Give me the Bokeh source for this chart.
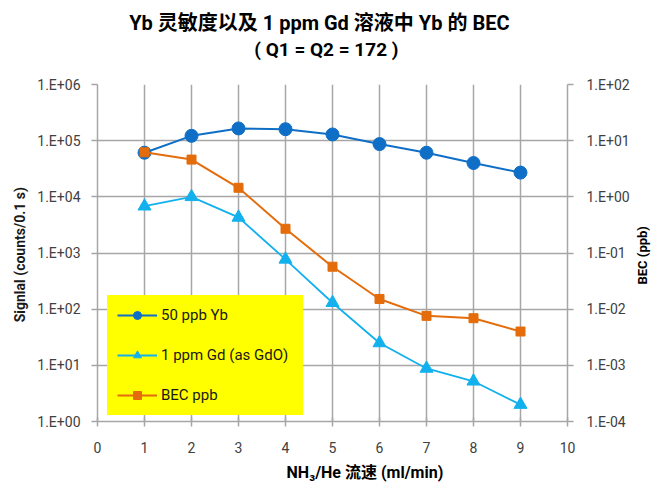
import math
from bokeh.plotting import figure
from bokeh.models import (Range1d, LogScale, LogAxis, LinearAxis, FixedTicker,
                          CustomJSTickFormatter, Legend, LegendItem)
from bokeh.embed import file_html
from bokeh.resources import INLINE

# ---- data ----
flow = [1, 2, 3, 4, 5, 6, 7, 8, 9]
yb_50ppb = [6.1e4, 1.22e5, 1.65e5, 1.6e5, 1.29e5, 8.7e4, 6.1e4, 4.0e4, 2.7e4]
gd_1ppm = [6.8e3, 1.0e4, 4.3e3, 7.7e2, 1.3e2, 25, 8.8, 5.2, 2.0]
bec_ppb = [6.2, 4.6, 1.45, 0.27, 0.057, 0.0152, 0.0076, 0.0069, 0.0040]

x_ticks = [0, 1, 2, 3, 4, 5, 6, 7, 8, 9, 10]
left_ticks = [1, 10, 100, 1e3, 1e4, 1e5, 1e6]
right_ticks = [1e-4, 1e-3, 1e-2, 1e-1, 1, 10, 100]

title_main = "Yb 灵敏度以及 1 ppm Gd 溶液中 Yb 的 BEC"
title_sub = "( Q1 = Q2 = 172 )"
x_label = "NH\u2083/He 流速 (ml/min)"
y_label = "Signlal  (counts/0.1 s)"
y2_label = "BEC  (ppb)"
series_names = ["50 ppb Yb", "1 ppm Gd (as GdO)", "BEC ppb"]

# layout anchors (positions of the free-standing texts, in axis units)
MAIN_TITLE_AT = 4.72
SUB_TITLE_AT = 4.87
X_LABEL_AT = 5.69
Y2_LABEL_AT = 0.0275

FONT = "Roboto, 'Noto Sans CJK SC', sans-serif"
GRID = "#a6a6a6"
TICK_TXT = "#404040"
C_YB = "#0F6FC6"
C_GD = "#12B1EE"
C_BEC = "#E46C0A"

FRAME_L, FRAME_R, FRAME_T, FRAME_B = 97, 568, 84, 421
W, H = 660, 484

p = figure(width=W, height=H, x_range=Range1d(0, 10), y_range=Range1d(1, 1e6),
           y_axis_type="log", output_backend="svg", toolbar_location=None, title=None,
           min_border_left=FRAME_L, min_border_right=W - FRAME_R,
           min_border_top=FRAME_T, min_border_bottom=H - FRAME_B)
p.outline_line_color = None
p.background_fill_color = "white"

fmt = CustomJSTickFormatter(code="""
const e = Math.round(Math.log10(tick));
const a = Math.abs(e);
return "1.E" + (e < 0 ? "-" : "+") + (a < 10 ? "0" + a : "" + a);
""")


def text_formatter(s):
    return CustomJSTickFormatter(args=dict(s=s), code="return s;")


# grids
p.xgrid.ticker = FixedTicker(ticks=x_ticks)
p.ygrid.ticker = FixedTicker(ticks=left_ticks)
for g in (p.xgrid[0], p.ygrid[0]):
    g.grid_line_color = GRID
    g.grid_line_width = 1.5
    g.minor_grid_line_color = None

# x axis
xa = p.xaxis[0]
xa.ticker = FixedTicker(ticks=x_ticks)
xa.major_tick_in = 4
xa.major_tick_out = 5
xa.minor_tick_line_color = None
xa.major_label_standoff = 15

# left axis
ya = p.yaxis[0]
ya.ticker = FixedTicker(ticks=left_ticks)
ya.formatter = fmt
ya.axis_label = y_label
ya.major_tick_in = 0
ya.major_tick_out = 6
ya.minor_tick_line_color = None
ya.major_label_standoff = 11
ya.axis_label_standoff = 6

# right axis
p.extra_y_ranges = {"bec": Range1d(1e-4, 1e2)}
p.extra_y_scales = {"bec": LogScale()}
ra = LogAxis(y_range_name="bec", ticker=FixedTicker(ticks=right_ticks), formatter=fmt)
ra.major_tick_in = 0
ra.major_tick_out = 6
ra.minor_tick_line_color = None
ra.major_label_standoff = 13
p.add_layout(ra, "right")

for ax in (xa, ya, ra):
    ax.axis_line_color = GRID
    ax.axis_line_width = 1.5
    ax.major_tick_line_color = GRID
    ax.major_tick_line_width = 1.5
    ax.major_label_text_font = FONT
    ax.major_label_text_font_size = "14px"
    ax.major_label_text_color = TICK_TXT
    ax.axis_label_text_font = FONT
    ax.axis_label_text_font_size = "14px"
    ax.axis_label_text_font_style = "bold"
    ax.axis_label_text_color = "#1a1a1a"


def label_axis(cls, text, at, size, standoff, **kw):
    ax = cls(ticker=FixedTicker(ticks=[at]), formatter=text_formatter(text), **kw)
    ax.axis_line_color = None
    ax.major_tick_line_color = None
    ax.minor_tick_line_color = None
    ax.major_tick_in = 0
    ax.major_tick_out = 0
    ax.major_label_standoff = standoff
    ax.major_label_text_font = FONT
    ax.major_label_text_font_size = size
    ax.major_label_text_font_style = "bold"
    ax.major_label_text_color = "black"
    return ax


# titles as label-only axes above the frame (first added sits closest to the frame)
p.add_layout(label_axis(LinearAxis, title_sub, SUB_TITLE_AT, "19px", 24), "above")
p.add_layout(label_axis(LinearAxis, title_main, MAIN_TITLE_AT, "20px", 0), "above")
# x-axis title (offset to the right as in the original)
p.add_layout(label_axis(LinearAxis, x_label, X_LABEL_AT, "16px", 7), "below")
# right-axis title, reading bottom-to-top
y2ax = label_axis(LogAxis, y2_label, Y2_LABEL_AT, "13px", 10, y_range_name="bec")
y2ax.major_label_orientation = math.pi / 2
p.add_layout(y2ax, "right")

# series
l1 = p.line(flow, yb_50ppb, line_color=C_YB, line_width=2)
s1 = p.scatter(flow, yb_50ppb, marker="circle", size=13, fill_color=C_YB, line_color=C_YB)
l2 = p.line(flow, gd_1ppm, line_color=C_GD, line_width=1.8)
s2 = p.scatter(flow, gd_1ppm, marker="triangle", size=13, fill_color=C_GD, line_color=C_GD)
l3 = p.line(flow, bec_ppb, line_color=C_BEC, line_width=2, y_range_name="bec")
s3 = p.scatter(flow, bec_ppb, marker="square", size=9, fill_color=C_BEC, line_color=C_BEC,
               y_range_name="bec")

legend = Legend(items=[LegendItem(label=series_names[0], renderers=[l1, s1]),
                       LegendItem(label=series_names[1], renderers=[l2, s2]),
                       LegendItem(label=series_names[2], renderers=[l3, s3])],
                location=(10, 6), background_fill_color="#FFFF00", background_fill_alpha=1,
                border_line_alpha=0, padding=10, spacing=20, glyph_height=20, glyph_width=40,
                label_standoff=4, label_width=132, margin=0,
                label_text_font=FONT, label_text_font_size="15px", label_text_color="#1a1a1a")
p.add_layout(legend)

open("out.html", "w").write(file_html(p, INLINE))
